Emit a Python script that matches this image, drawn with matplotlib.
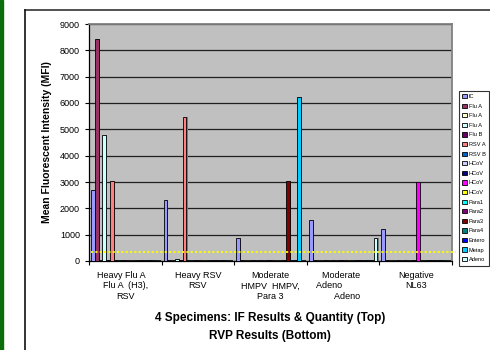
import matplotlib
matplotlib.use('Agg')
import matplotlib.pyplot as plt
from matplotlib.lines import Line2D
from matplotlib.patches import Rectangle

plt.rcParams['font.family'] = ['Liberation Sans', 'DejaVu Sans']

groups = ['Heavy Flu A   \nFlu A  (H3),\nRSV', 'Heavy RSV\nRSV', 'Moderate\nHMPV  HMPV,\nPara 3',
          'Moderate  \nAdeno           \n   Adeno', 'Negative\nNL63']

names = ['IC', 'Flu A', 'Flu A', 'Flu A', 'Flu B', 'RSV A', 'RSV B',
         'HCoV', 'HCoV', 'HCoV', 'HCoV', 'Para1', 'Para2', 'Para3',
         'Para4', 'Entero', 'Metap', 'Adeno']
colors = ['#9999FF', '#993366', '#FFFFCC', '#CCFFFF', '#660066', '#FF8080', '#0066CC',
          '#CCCCFF', '#000080', '#FF00FF', '#FFFF00', '#00FFFF', '#800080', '#800000',
          '#008080', '#0000FF', '#00CCFF', '#CCFFFF']

# MFI per series, one value per specimen group
values = [
    [2700, 2330, 870, 1560, 1230],   # IC
    [8420, 30, 20, 20, 30],          # Flu A Matrix
    [20, 30, 20, 20, 20],            # Flu A H1
    [4780, 60, 20, 20, 20],          # Flu A H3
    [20, 20, 20, 20, 20],            # Flu B
    [3030, 5470, 20, 20, 20],        # RSV A
    [20, 20, 20, 20, 20],            # RSV B
    [30, 20, 20, 20, 20],            # HCoV 229E
    [20, 20, 20, 20, 30],            # HCoV OC43
    [20, 20, 20, 20, 3000],          # HCoV NL63
    [30, 20, 20, 20, 20],            # HCoV HKU1
    [20, 20, 20, 20, 20],            # Para1
    [20, 20, 20, 20, 20],            # Para2
    [20, 20, 3030, 20, 20],          # Para3
    [20, 20, 20, 20, 20],            # Para4
    [20, 20, 20, 20, 20],            # Entero
    [20, 20, 6240, 20, 20],          # Metap
    [40, 40, 20, 870, 20],           # Adeno
]
cutoff = 330

fig = plt.figure(figsize=(4.9, 3.5), dpi=100)
fig.patch.set_facecolor('white')
ax = fig.add_axes([89/490, 1-261/350, 363/490, 237/350])
ax.set_facecolor('#C0C0C0')

n = len(names)
w = 1/(n+1)
for j in range(n):
    xs = [i + (j - (n-1)/2)*w for i in range(len(groups))]
    ax.bar([x + 0.016 for x in xs], values[j], width=w, color='#7a7a7a', zorder=2, linewidth=0)
    ax.bar(xs, values[j], width=w, color=colors[j], edgecolor='black', linewidth=0.6,
           zorder=3, label=names[j])

ax.axhline(cutoff, xmin=0.005, xmax=1.011, color='#FFFF00', linestyle=(0, (1.2, 1.2)),
           linewidth=1.3, zorder=4, clip_on=False)

ax.set_ylim(0, 9000)
ax.set_xlim(-0.5, len(groups)-0.5)
ax.set_yticks(range(0, 9001, 1000))
ax.yaxis.grid(True, color='#202020', linewidth=0.9, zorder=1)
ax.set_axisbelow(True)
ax.tick_params(axis='y', labelsize=6.5, length=3, width=0.8, pad=3.5, direction='out')

ax.set_xticks([i - 0.5 for i in range(len(groups)+1)])
ax.set_xticklabels([])
ax.set_xticks(range(len(groups)), minor=True)
ax.set_xticklabels(groups, minor=True, fontsize=6.5, linespacing=1.25)
ax.tick_params(axis='x', which='major', length=3, width=0.8, direction='out')
ax.tick_params(axis='x', which='minor', length=0, pad=7)

for s in ['top', 'right']:
    ax.spines[s].set_color('#808080')
    ax.spines[s].set_linewidth(1.3)
for s in ['left', 'bottom']:
    ax.spines[s].set_color('black')
    ax.spines[s].set_linewidth(0.9)

fig.text(47/490, 0.595, 'Mean Fluorescent Intensity (MFI)', rotation=90, ha='center',
         va='center', fontsize=7.5, fontweight='bold')
fig.text(270/490, 1-318/350, '4 Specimens: IF Results & Quantity (Top)', ha='center',
         va='center', fontsize=8.5, fontweight='bold')
fig.text(270/490, 1-336/350, 'RVP Results (Bottom)', ha='center', va='center',
         fontsize=8.5, fontweight='bold')

leg = fig.legend(loc='upper left', bbox_to_anchor=(459/490, 1-90.5/350), fontsize=4.1,
                 frameon=True, fancybox=False, edgecolor='black', handlelength=0.8,
                 handleheight=0.8, handletextpad=0.3, labelspacing=0.78, borderpad=0.6,
                 borderaxespad=0)
leg.get_frame().set_linewidth(0.8)

# outer chart frame and slide border
fig.add_artist(Rectangle((0, 0), 3.3/490, 1, transform=fig.transFigure, color='#0A6E0A', zorder=0))
fig.add_artist(Line2D([25/490, 1], [1-10/350, 1-10/350], transform=fig.transFigure,
                      color='#333333', linewidth=1.2))
fig.add_artist(Line2D([25/490, 25/490], [0, 1-10/350], transform=fig.transFigure,
                      color='#111111', linewidth=1.2))

fig.savefig('out.png', dpi=100)
